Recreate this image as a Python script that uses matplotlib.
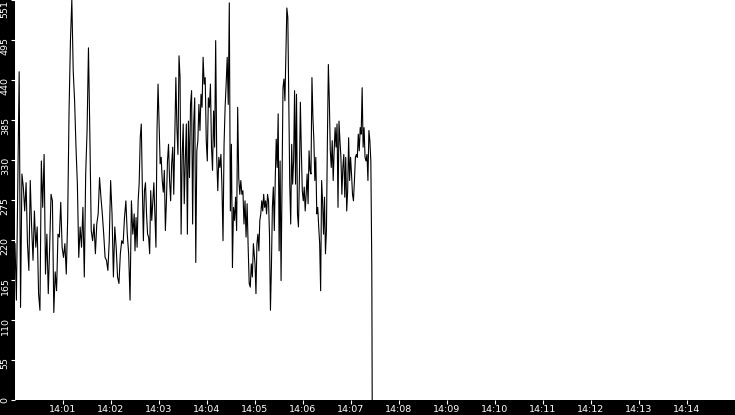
import numpy as np
import matplotlib
matplotlib.use('Agg')
import matplotlib.pyplot as plt
import matplotlib.dates as mdates
from matplotlib.transforms import ScaledTranslation

# values, in three stretches of time (seconds after 14:00)
seg1 = [215, 137, 299, 452, 127, 311, 293, 260, 299, 215, 178, 302, 238, 192, 260, 210,
        238, 146, 123, 329, 265, 338, 173, 228, 146, 210, 283, 274, 120, 176, 150, 228,
        224, 272, 210, 196, 215, 173, 249, 398, 495, 551, 453, 412, 348, 297, 196, 238,
        210, 265, 169, 311, 371, 485, 366, 233, 219, 242, 201, 242, 256, 306, 279, 256,
        228, 196, 192, 178, 219, 302, 256, 169, 238, 210, 169, 160, 201, 219, 215, 251,
        274, 228, 201, 137, 274, 228, 256]
seg2 = [205, 251, 210, 274, 299, 361, 380, 293, 219, 288, 299, 256, 228, 224, 201, 288,
        247, 274, 299, 256, 210, 371, 435, 380, 325, 334, 302, 286, 316, 233, 274, 329,
        352, 302, 274, 325, 348, 283, 366, 444, 375, 338, 474, 444, 228, 334, 380, 270,
        329, 380, 228, 384, 306, 407, 426, 242, 380, 416, 189, 343, 357, 407, 371, 421,
        403, 472, 435, 444, 357, 329, 416, 403, 435, 348, 316, 398, 348, 495, 334, 288,
        334, 320, 338, 293, 219, 352, 403, 435, 472, 407, 547, 260, 352, 182, 265, 247,
        279, 233, 403, 306, 283, 302, 283, 288, 242, 274, 224, 270, 210, 160, 155, 187,
        169, 215]
seg3 = [187, 146, 215, 228, 205, 247, 256, 274, 260, 283, 265, 274, 256, 283, 274, 228,
        123, 182, 265, 293, 233, 306, 359, 320, 394, 205, 329, 164, 302, 430, 442, 412,
        474, 540, 527, 412, 297, 242, 352, 297, 329, 426, 297, 421, 256, 238, 306, 410,
        343, 288, 274, 293, 260, 283, 311, 270, 343, 316, 311, 444, 389, 357, 302, 334,
        256, 265, 238, 215, 150, 302, 274, 228, 279, 201, 233, 357, 462, 412, 343, 320,
        357, 302, 343, 375, 348, 380, 265, 384, 357, 334, 283, 320, 338, 279, 334, 260,
        288, 361, 302, 334, 311, 283, 274, 302, 334, 338, 334, 366, 343, 375, 366, 430,
        348, 375, 334, 329, 338, 302, 371, 357, 329, 182]
seg_spans = [(0, 149), (150, 298), (300, 446)]
drop_sec = 446.5          # series falls to zero here
y_max = 551
tick_minutes = list(range(1, 15))

base = np.datetime64('2024-01-01T14:00:00')
secs = np.concatenate([np.linspace(a, b, len(s)) for (a, b), s in zip(seg_spans, [seg1, seg2, seg3])]
                      + [[drop_sec]])
vals = np.concatenate([seg1, seg2, seg3, [0]])
times = base + (secs * 1000).astype('timedelta64[ms]')

fig = plt.figure(figsize=(7.35, 4.15), dpi=100, facecolor='black')
ax = fig.add_axes([15 / 735, 15.5 / 415, 720 / 735, 399.5 / 415])
ax.set_facecolor('white')
ax.spines[['left', 'right', 'top', 'bottom']].set_visible(False)

ax.plot(times, vals, color='black', linewidth=0.8)

ax.set_xlim(base, base + np.timedelta64(15, 'm'))
ax.set_ylim(0, y_max)

ax.xaxis.set_major_locator(mdates.MinuteLocator(byminute=tick_minutes))
ax.xaxis.set_major_formatter(mdates.DateFormatter('%H:%M'))
yt = np.linspace(0, y_max, 11)
ax.set_yticks(yt)
ax.set_yticklabels([str(int(v)) for v in yt])

ax.tick_params(colors='white', labelcolor='white', length=3, width=0.8, labelsize=6.8)
ax.tick_params(axis='x', pad=0.8)
ax.tick_params(axis='y', pad=0.8)

off = ScaledTranslation(0, 0.03, fig.dpi_scale_trans)
for lbl in ax.get_yticklabels()[:-1]:
    lbl.set_rotation(90)
    lbl.set_va('top')
    lbl.set_transform(lbl.get_transform() + off)
top_lbl = ax.get_yticklabels()[-1]
top_lbl.set_rotation(90)
top_lbl.set_va('top')

fig.savefig('out.png', dpi=100, facecolor='black')
